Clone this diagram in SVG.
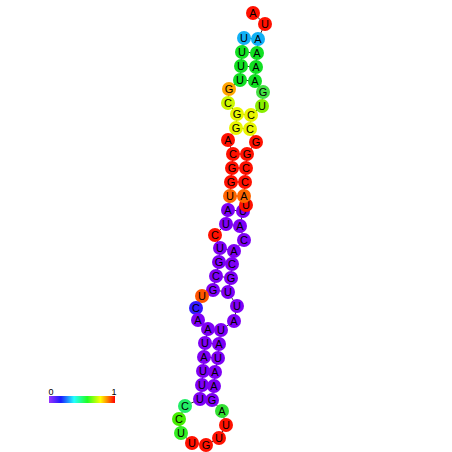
<svg xmlns="http://www.w3.org/2000/svg" width="452" height="452" viewBox="0 0 452 452">
<defs>
<linearGradient id="cbar" x1="0" y1="0" x2="1" y2="0">
<stop offset="0" stop-color="#9933ff"/>
<stop offset="0.18" stop-color="#1a1aff"/>
<stop offset="0.38" stop-color="#22ffff"/>
<stop offset="0.58" stop-color="#22ff22"/>
<stop offset="0.78" stop-color="#ffff00"/>
<stop offset="1" stop-color="#ff0000"/>
</linearGradient>
</defs>
<style>
.bb{stroke:#333;stroke-width:1;fill:none}
.bp{stroke:#333;stroke-width:1}
circle{stroke:none}
text{font-family:"Liberation Sans",Arial,sans-serif;font-size:11px;fill:#000;text-anchor:middle;dominant-baseline:central}
.p{fill:#7f00f5}
.r{fill:#ff1100}
.g{fill:#11e022}
.y{fill:#e8f500}
.o{fill:#ff6600}
.b{fill:#11b0f5}
.lbl{font-size:9px}
</style>
<rect width="452" height="452" fill="#fff"/>
<g id="connectors">
<polyline class="bb" points="244,38 242,52 241,66 240,80 229,89 228,103 237,114 236,128 228,140 233,154 232,168 231,182 230,196 228,210 226,224 215,235 220,248 219,262 216,276 213,290 202,296 196,308 198,320 208,329 205,343 204,357 203,371 202,385 200,399 185,406 179,419 181,433 192,443 206,445 219,438 226,425 222,411 212,400 214,386 215,372 218,358 219,344 221,330 234,321 237,306 228,292 231,278 232,264 234,251 244,240 240,226 243,211 246,205 244,196 245,182 246,168 247,154 256,142 250,129 251,115 262,106 263,92 255,81 256,67 257,53 258,39 265,24 253,13"/>
<line class="bp" x1="244" y1="38" x2="258" y2="39"/>
<line class="bp" x1="242" y1="52" x2="257" y2="53"/>
<line class="bp" x1="241" y1="66" x2="256" y2="67"/>
<line class="bp" x1="240" y1="80" x2="255" y2="81"/>
<line class="bp" x1="237" y1="114" x2="251" y2="115"/>
<line class="bp" x1="236" y1="128" x2="250" y2="129"/>
<line class="bp" x1="233" y1="154" x2="247" y2="154"/>
<line class="bp" x1="232" y1="168" x2="246" y2="168"/>
<line class="bp" x1="231" y1="182" x2="245" y2="182"/>
<line class="bp" x1="230" y1="196" x2="244" y2="196"/>
<line class="bp" x1="228" y1="210" x2="243" y2="211"/>
<line class="bp" x1="226" y1="224" x2="240" y2="226"/>
<line class="bp" x1="220" y1="248" x2="234" y2="251"/>
<line class="bp" x1="219" y1="262" x2="232" y2="264"/>
<line class="bp" x1="216" y1="276" x2="231" y2="278"/>
<line class="bp" x1="213" y1="290" x2="228" y2="292"/>
<line class="bp" x1="208" y1="329" x2="221" y2="330"/>
<line class="bp" x1="205" y1="343" x2="219" y2="344"/>
<line class="bp" x1="204" y1="357" x2="218" y2="358"/>
<line class="bp" x1="203" y1="371" x2="215" y2="372"/>
<line class="bp" x1="202" y1="385" x2="214" y2="386"/>
<line class="bp" x1="200" y1="399" x2="212" y2="400"/>
</g>
<g id="n1"><circle class="b" cx="244" cy="38" r="7"/><text x="244" y="38">U</text></g>
<g id="n2"><circle class="g" cx="242" cy="52" r="7"/><text x="242" y="52">U</text></g>
<g id="n3"><circle class="g" cx="241" cy="66" r="7"/><text x="241" y="66">U</text></g>
<g id="n4"><circle class="g" cx="240" cy="80" r="7"/><text x="240" y="80">U</text></g>
<g id="n5"><circle fill="#ffa500" cx="229" cy="89" r="7"/><text x="229" y="89">G</text></g>
<g id="n6"><circle fill="#ccf500" cx="228" cy="103" r="7"/><text x="228" y="103">C</text></g>
<g id="n7"><circle class="y" cx="237" cy="114" r="7"/><text x="237" y="114">G</text></g>
<g id="n8"><circle class="y" cx="236" cy="128" r="7"/><text x="236" y="128">G</text></g>
<g id="n9"><circle class="r" cx="228" cy="140" r="7"/><text x="228" y="140">A</text></g>
<g id="n10"><circle class="r" cx="233" cy="154" r="7"/><text x="233" y="154">C</text></g>
<g id="n11"><circle class="r" cx="232" cy="168" r="7"/><text x="232" y="168">G</text></g>
<g id="n12"><circle class="r" cx="231" cy="182" r="7"/><text x="231" y="182">G</text></g>
<g id="n13"><circle class="o" cx="230" cy="196" r="7"/><text x="230" y="196">U</text></g>
<g id="n14"><circle class="p" cx="228" cy="210" r="7"/><text x="228" y="210">A</text></g>
<g id="n15"><circle class="p" cx="226" cy="224" r="7"/><text x="226" y="224">U</text></g>
<g id="n16"><circle class="r" cx="215" cy="235" r="7"/><text x="215" y="235">C</text></g>
<g id="n17"><circle class="p" cx="220" cy="248" r="7"/><text x="220" y="248">U</text></g>
<g id="n18"><circle class="p" cx="219" cy="262" r="7"/><text x="219" y="262">G</text></g>
<g id="n19"><circle class="p" cx="216" cy="276" r="7"/><text x="216" y="276">C</text></g>
<g id="n20"><circle class="p" cx="213" cy="290" r="7"/><text x="213" y="290">G</text></g>
<g id="n21"><circle fill="#ff5500" cx="202" cy="296" r="7"/><text x="202" y="296">U</text></g>
<g id="n22"><circle fill="#3318ff" cx="196" cy="308" r="7"/><text x="196" y="308">C</text></g>
<g id="n23"><circle class="p" cx="198" cy="320" r="7"/><text x="198" y="320">A</text></g>
<g id="n24"><circle class="p" cx="208" cy="329" r="7"/><text x="208" y="329">A</text></g>
<g id="n25"><circle class="p" cx="205" cy="343" r="7"/><text x="205" y="343">U</text></g>
<g id="n26"><circle class="p" cx="204" cy="357" r="7"/><text x="204" y="357">A</text></g>
<g id="n27"><circle class="p" cx="203" cy="371" r="7"/><text x="203" y="371">U</text></g>
<g id="n28"><circle class="p" cx="202" cy="385" r="7"/><text x="202" y="385">U</text></g>
<g id="n29"><circle class="p" cx="200" cy="399" r="7"/><text x="200" y="399">U</text></g>
<g id="n30"><circle fill="#22ee66" cx="185" cy="406" r="7"/><text x="185" y="406">C</text></g>
<g id="n31"><circle fill="#44ee00" cx="179" cy="419" r="7"/><text x="179" y="419">C</text></g>
<g id="n32"><circle fill="#33ee22" cx="181" cy="433" r="7"/><text x="181" y="433">U</text></g>
<g id="n33"><circle class="r" cx="192" cy="443" r="7"/><text x="192" y="443">U</text></g>
<g id="n34"><circle class="r" cx="206" cy="445" r="7"/><text x="206" y="445">G</text></g>
<g id="n35"><circle class="r" cx="219" cy="438" r="7"/><text x="219" y="438">U</text></g>
<g id="n36"><circle class="r" cx="226" cy="425" r="7"/><text x="226" y="425">U</text></g>
<g id="n37"><circle fill="#33e033" cx="222" cy="411" r="7"/><text x="222" y="411">A</text></g>
<g id="n38"><circle class="p" cx="212" cy="400" r="7"/><text x="212" y="400">G</text></g>
<g id="n39"><circle class="p" cx="214" cy="386" r="7"/><text x="214" y="386">A</text></g>
<g id="n40"><circle class="p" cx="215" cy="372" r="7"/><text x="215" y="372">A</text></g>
<g id="n41"><circle class="p" cx="218" cy="358" r="7"/><text x="218" y="358">U</text></g>
<g id="n42"><circle class="p" cx="219" cy="344" r="7"/><text x="219" y="344">A</text></g>
<g id="n43"><circle class="p" cx="221" cy="330" r="7"/><text x="221" y="330">U</text></g>
<g id="n44"><circle class="p" cx="234" cy="321" r="7"/><text x="234" y="321">A</text></g>
<g id="n45"><circle class="p" cx="237" cy="306" r="7"/><text x="237" y="306">U</text></g>
<g id="n46"><circle class="p" cx="228" cy="292" r="7"/><text x="228" y="292">U</text></g>
<g id="n47"><circle class="p" cx="231" cy="278" r="7"/><text x="231" y="278">G</text></g>
<g id="n48"><circle class="p" cx="232" cy="264" r="7"/><text x="232" y="264">C</text></g>
<g id="n49"><circle class="p" cx="234" cy="251" r="7"/><text x="234" y="251">A</text></g>
<g id="n50"><circle class="p" cx="244" cy="240" r="7"/><text x="244" y="240">C</text></g>
<g id="n51"><circle class="p" cx="240" cy="226" r="7"/><text x="240" y="226">A</text></g>
<g id="n52"><circle class="p" cx="243" cy="211" r="7"/><text x="243" y="211">U</text></g>
<g id="n53"><circle class="r" cx="246" cy="205" r="7"/><text x="246" y="205">U</text></g>
<g id="n54"><circle class="o" cx="244" cy="196" r="7"/><text x="244" y="196">A</text></g>
<g id="n55"><circle class="r" cx="245" cy="182" r="7"/><text x="245" y="182">C</text></g>
<g id="n56"><circle class="r" cx="246" cy="168" r="7"/><text x="246" y="168">C</text></g>
<g id="n57"><circle class="r" cx="247" cy="154" r="7"/><text x="247" y="154">G</text></g>
<g id="n58"><circle class="r" cx="256" cy="142" r="7"/><text x="256" y="142">G</text></g>
<g id="n59"><circle class="y" cx="250" cy="129" r="7"/><text x="250" y="129">C</text></g>
<g id="n60"><circle class="y" cx="251" cy="115" r="7"/><text x="251" y="115">C</text></g>
<g id="n61"><circle fill="#88ee00" cx="262" cy="106" r="7"/><text x="262" y="106">U</text></g>
<g id="n62"><circle fill="#44e044" cx="263" cy="92" r="7"/><text x="263" y="92">G</text></g>
<g id="n63"><circle class="g" cx="255" cy="81" r="7"/><text x="255" y="81">A</text></g>
<g id="n64"><circle class="g" cx="256" cy="67" r="7"/><text x="256" y="67">A</text></g>
<g id="n65"><circle class="g" cx="257" cy="53" r="7"/><text x="257" y="53">A</text></g>
<g id="n66"><circle class="b" cx="258" cy="39" r="7"/><text x="258" y="39">A</text></g>
<g id="n67"><circle class="r" cx="265" cy="24" r="7"/><text x="265" y="24">U</text></g>
<g id="n68"><circle class="r" cx="253" cy="13" r="7"/><text x="253" y="13">A</text></g>
<g id="colorbar">
<rect x="49" y="396" width="66" height="7" fill="url(#cbar)"/>
<text class="lbl" x="51" y="392">0</text>
<text class="lbl" x="114" y="392">1</text>
</g>
</svg>
